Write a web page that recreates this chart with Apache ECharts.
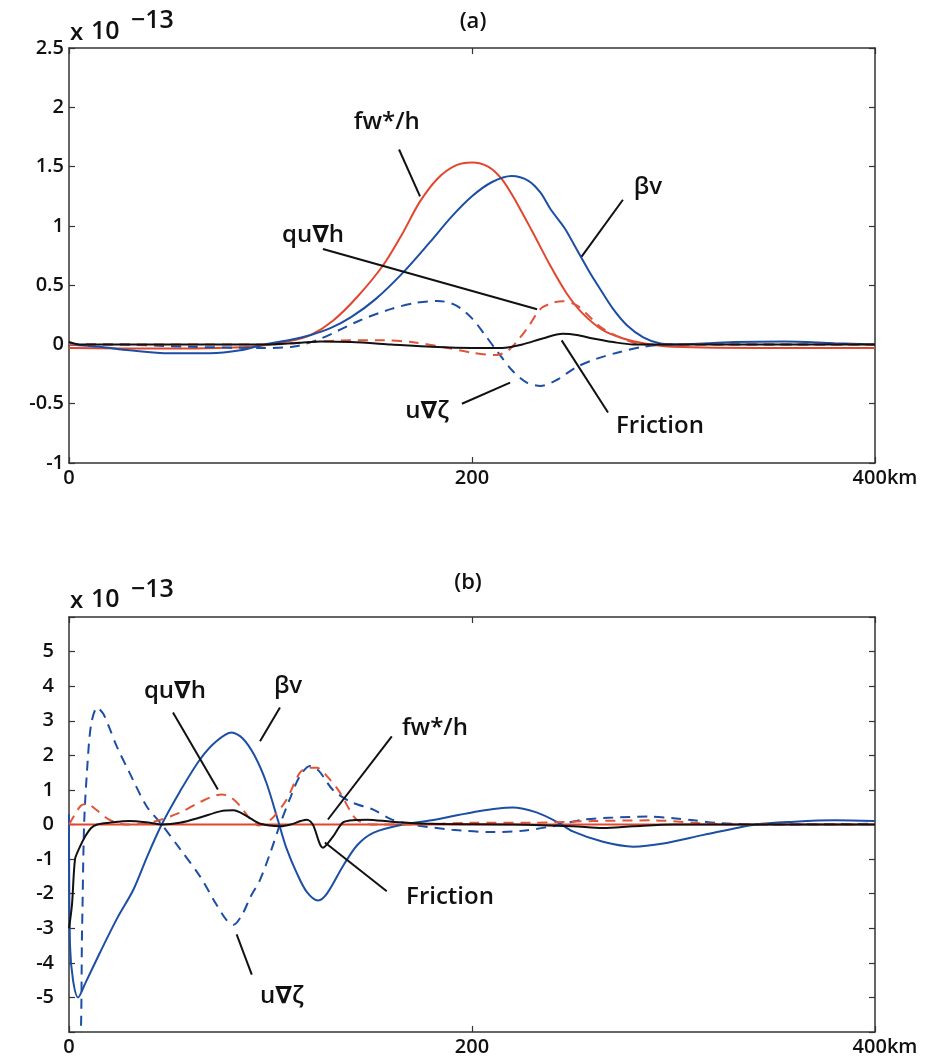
<!DOCTYPE html>
<html>
<head>
<meta charset="utf-8">
<script src="https://cdn.jsdelivr.net/npm/echarts@6/dist/echarts.min.js"></script>
<style>
html,body{margin:0;padding:0;background:#fff;}
#c{width:932px;height:1060px;}
</style>
</head>
<body>
<div id="c"></div>
<script>
// ---------- data (values in units of 1e-13, x in km) ----------
const xTicks = [0, 200, 400];
const xTickLabels = ['0', '200', '400km'];
const yTicksA = [-1, -0.5, 0, 0.5, 1, 1.5, 2, 2.5];
const yTicksB = [-5, -4, -3, -2, -1, 0, 1, 2, 3, 4, 5];

// Panel (a)
const fwA = [[0,-0.03],[50,-0.035],[90,-0.02],[110,0.03],[120,0.08],[131,0.2],[143,0.4],[156,0.67],[165,0.92],[174,1.2],[183,1.4],[192,1.51],[200,1.535],[208,1.5],[215,1.39],[222,1.2],[230,0.95],[239,0.66],[247,0.43],[255,0.26],[265,0.12],[275,0.05],[285,0.01],[300,-0.02],[350,-0.03],[400,-0.03]];
const bvA = [[0,0.0],[15,-0.02],[30,-0.05],[50,-0.075],[70,-0.075],[85,-0.05],[97,0],[110,0.04],[120,0.08],[130,0.14],[140,0.23],[152,0.38],[166,0.61],[179,0.86],[190,1.08],[200,1.25],[210,1.37],[219.7,1.42],[228,1.38],[234,1.28],[239,1.14],[246,0.98],[252,0.8],[258,0.62],[263.5,0.47],[270,0.3],[277,0.16],[285,0.06],[293,0.01],[300,0.0],[330,0.02],[355,0.025],[380,0.01],[400,0.0]];
const uzA = [[0,0.0],[20,0.0],[60,-0.02],[95,-0.03],[111,-0.02],[125,0.05],[144,0.2],[160,0.3],[172,0.35],[183,0.367],[192,0.33],[200,0.22],[206,0.09],[213,-0.07],[220,-0.22],[227,-0.32],[234,-0.35],[242,-0.3],[252,-0.19],[262,-0.12],[272,-0.07],[285,-0.02],[300,0],[400,0]];
const quA = [[0,0],[100,0],[120,0.02],[140,0.035],[156,0.035],[170,0.02],[185,-0.02],[200,-0.07],[212,-0.09],[218,-0.05],[223,0.04],[228,0.15],[234,0.3],[240,0.35],[245,0.365],[252,0.33],[258,0.24],[263.5,0.15],[272,0.07],[285,0.0],[400,0]];
const frA = [[0,0.02],[5,0.0],[50,0.0],[100,0.0],[115,0.015],[125,0.025],[140,0.02],[160,0.0],[180,-0.02],[200,-0.03],[215,-0.03],[225,0.0],[235,0.05],[245,0.09],[252,0.08],[260,0.05],[270,0.02],[280,0.0],[400,0]];

// Panel (b)
const fwB = [[0,0],[100,0],[200,0],[300,0],[400,0]];
const bvB = [[0,0.3],[0.5,-3.5],[2,-4.5],[4.5,-5.0],[8,-4.6],[15.4,-3.7],[24,-2.7],[32,-1.88],[39,-0.9],[46,0],[55,0.95],[65,1.88],[73,2.4],[80.7,2.66],[86,2.5],[92,2.0],[98,1.2],[103.8,0.1],[108,-0.7],[113,-1.4],[118,-1.95],[123.6,-2.2],[128,-2.0],[136,-1.2],[143,-0.6],[151,-0.24],[166,0],[180,0.12],[200,0.35],[220,0.49],[232,0.35],[243,0.05],[250,-0.2],[265,-0.5],[280,-0.64],[295,-0.55],[315,-0.3],[341,0],[360,0.08],[380,0.12],[400,0.1]];
const uzB = [[0,-6.5],[5,-6.5],[6.5,-3],[7.5,0],[9,1.6],[11,2.9],[14,3.38],[17,3.2],[20,2.8],[23.7,2.26],[30,1.5],[38.5,0.53],[46,0],[55,-0.7],[65,-1.5],[73,-2.3],[78,-2.75],[81.6,-2.9],[86,-2.6],[90,-2.1],[94.8,-1.6],[100,-0.8],[104.7,0],[110,0.8],[114.6,1.4],[119.6,1.69],[124,1.55],[131,1.0],[140,0.65],[151,0.43],[160,0.15],[170,0],[190,-0.15],[210,-0.22],[225,-0.18],[240,-0.05],[255,0.14],[270,0.2],[288,0.23],[300,0.18],[310,0.12],[321,0.05],[340,0],[400,0.02]];
const quB = [[0,0],[3,0.3],[6,0.55],[9,0.6],[13,0.45],[20,0.14],[28,0.0],[40,0.05],[55,0.34],[65,0.65],[75.8,0.87],[80,0.8],[85,0.53],[90,0.15],[94,-0.03],[98,0.05],[102,0.25],[108,0.72],[114.6,1.5],[119,1.64],[123,1.64],[128,1.4],[134.5,0.92],[139,0.45],[142.8,0.14],[150,0.0],[170,0.0],[200,0.05],[230,0.05],[260,0.1],[290,0.12],[310,0.05],[330,0],[400,0]];
const frB = [[0,-3],[1.5,-2.3],[3,-1.0],[5,-0.7],[8,-0.35],[11,-0.1],[14,0],[20,0.05],[30,0.1],[40,0.05],[46,0],[55,0.05],[65,0.2],[75,0.38],[81.6,0.41],[88,0.25],[95,0.02],[105,-0.05],[110,0.0],[115,0.1],[118,0.14],[121,0.0],[126,-0.67],[131,-0.35],[136,0.06],[142,0.13],[148,0.14],[160,0.08],[180,0.02],[220,0.0],[250,-0.05],[265,-0.1],[280,-0.05],[300,0.0],[400,0.0]];

// Annotations: [text, textX, textY, lineX1, lineY1, lineX2, lineY2] in data coords
const annotA = [
  ['fw*/h', 157.7, 1.873, 163.8, 1.644, 174.2, 1.248],
  ['βv', 287.3, 1.33, 274.9, 1.22, 254.4, 0.74],
  ['qu∇h', 121.1, 0.924, 126, 0.805, 232.3, 0.297],
  ['u∇ζ', 177.7, -0.559, 195, -0.5, 218.9, -0.322],
  ['Friction', 293.3, -0.686, 267.5, -0.574, 244.5, 0.034]
];
const annotB = [
  ['qu∇h', 52.6, 3.85, 51.6, 3.24, 73.9, 1.01],
  ['βv', 108.7, 3.99, 104.7, 3.38, 94.8, 2.41],
  ['fw*/h', 181.6, 2.8, 160.2, 2.55, 128.5, 0.145],
  ['Friction', 189.1, -2.11, 157.7, -1.93, 127, -0.52],
  ['u∇ζ', 105.6, -4.96, 90.7, -4.34, 83.2, -3.18]
];

// ---------- styles ----------
const FONT = '"Open Sans", "DejaVu Sans", sans-serif';
const RED = '#e2462e';
const RED_D = '#e0553a';
const BLUE = '#1c4ea3';
const BLACK = '#111111';
const AXIS = '#333333';
const dash = [10, 7];
const TICK_FS = 20;

function xAx(grid, pos, showLabel) {
  return {
    type: 'value', gridIndex: grid, position: pos, min: 0, max: 400, interval: 200,
    axisLine: {show: true, onZero: false, lineStyle: {color: AXIS, width: 1.5}},
    axisTick: {show: true, inside: true, length: 6, lineStyle: {color: AXIS, width: 1.2}},
    splitLine: {show: false},
    axisLabel: {
      show: showLabel, margin: 5, fontFamily: FONT, fontSize: TICK_FS, fontWeight: 600, color: '#111',
      formatter: v => { const i = xTicks.indexOf(v); if (i < 0) return ''; return v === 400 ? '{k|' + xTickLabels[i] + '}' : xTickLabels[i]; },
      rich: {k: {fontFamily: FONT, fontSize: TICK_FS, fontWeight: 600, color: '#111', padding: [0, 0, 0, 20]}}
    }
  };
}
function yAx(grid, pos, showLabel, min, max, interval, ticks, margin) {
  return {
    type: 'value', gridIndex: grid, position: pos, min: min, max: max, interval: interval,
    axisLine: {show: true, onZero: false, lineStyle: {color: AXIS, width: 1.5}},
    axisTick: {show: true, inside: true, length: 6, lineStyle: {color: AXIS, width: 1.2}},
    splitLine: {show: false},
    axisLabel: {
      show: showLabel, margin: margin, fontFamily: FONT, fontSize: TICK_FS, fontWeight: 600, color: '#111',
      formatter: v => { const r = Math.round(v * 100) / 100; return ticks.indexOf(r) >= 0 ? String(r) : ''; }
    }
  };
}
function ln(name, data, color, dashed, xi, yi, z) {
  return {
    name: name, type: 'line', data: data, xAxisIndex: xi, yAxisIndex: yi,
    showSymbol: false, symbol: 'none', smooth: 0.3, z: z,
    lineStyle: {color: color, width: 2, type: dashed ? dash : 'solid'},
    animation: false, silent: true
  };
}

const chart = echarts.init(document.getElementById('c'), null, {renderer: 'canvas'});
const option = {
  animation: false,
  backgroundColor: '#fff',
  grid: [
    {left: 69, right: 57, top: 48, bottom: 1060 - 463},
    {left: 69, right: 57, top: 617, bottom: 1060 - 1032}
  ],
  xAxis: [xAx(0, 'bottom', true), xAx(0, 'top', false), xAx(1, 'bottom', true), xAx(1, 'top', false)],
  yAxis: [
    yAx(0, 'left', true, -1, 2.5, 0.5, yTicksA, 5),
    yAx(0, 'right', false, -1, 2.5, 0.5, yTicksA, 5),
    yAx(1, 'left', true, -6, 6, 1, yTicksB, 15),
    yAx(1, 'right', false, -6, 6, 1, yTicksB, 15)
  ],
  series: [
    ln('fw*/h', fwA, RED, false, 0, 0, 2),
    ln('βv', bvA, BLUE, false, 0, 0, 3),
    ln('u∇ζ', uzA, BLUE, true, 0, 0, 4),
    ln('qu∇h', quA, RED_D, true, 0, 0, 5),
    ln('Friction', frA, BLACK, false, 0, 0, 6),
    ln('fw*/h', fwB, RED, false, 2, 2, 2),
    ln('βv', bvB, BLUE, false, 2, 2, 3),
    ln('u∇ζ', uzB, BLUE, true, 2, 2, 4),
    ln('qu∇h', quB, RED_D, true, 2, 2, 5),
    ln('Friction', frB, BLACK, false, 2, 2, 6)
  ]
};
chart.setOption(option);

// ---------- annotations & titles ----------
const g = [];
function addAnnot(list, xi, yi) {
  list.forEach(a => {
    const t = chart.convertToPixel({xAxisIndex: xi, yAxisIndex: yi}, [a[1], a[2]]);
    const p1 = chart.convertToPixel({xAxisIndex: xi, yAxisIndex: yi}, [a[3], a[4]]);
    const p2 = chart.convertToPixel({xAxisIndex: xi, yAxisIndex: yi}, [a[5], a[6]]);
    g.push({type: 'line', shape: {x1: p1[0], y1: p1[1], x2: p2[0], y2: p2[1]}, style: {stroke: BLACK, lineWidth: 2}, z: 10, silent: true});
    g.push({type: 'text', x: t[0], y: t[1], style: {text: a[0], fill: BLACK, font: '600 24px ' + FONT, textAlign: 'center', textVerticalAlign: 'middle'}, z: 10, silent: true});
  });
}
addAnnot(annotA, 0, 0);
addAnnot(annotB, 2, 2);

function txt(s, x, y, size, align) {
  g.push({type: 'text', x: x, y: y, style: {text: s, fill: BLACK, font: '600 ' + size + 'px ' + FONT, textAlign: align || 'left', textVerticalAlign: 'middle'}, z: 10, silent: true});
}
txt('(a)', 473, 22, 22, 'center');
txt('(b)', 468, 583, 22, 'center');
txt('x', 70, 33, 24);
txt('10', 91, 32, 25);
txt('−13', 131, 21, 25);
txt('x', 70, 601, 24);
txt('10', 91, 600, 25);
txt('−13', 131, 590, 25);

chart.setOption({graphic: g});
</script>
</body>
</html>
